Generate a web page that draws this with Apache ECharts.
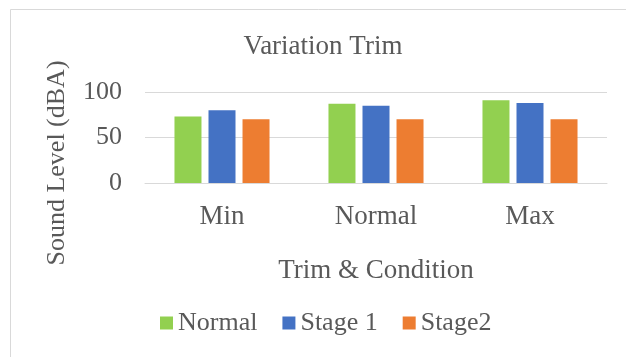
<!DOCTYPE html>
<html>
<head>
<meta charset="utf-8">
<script src="https://cdn.jsdelivr.net/npm/echarts@6/dist/echarts.min.js"></script>
<style>
  html, body { margin: 0; padding: 0; background: #fff; }
  #chart { width: 626px; height: 357px; }
</style>
</head>
<body>
<div id="chart"></div>
<script>
// Trim conditions on the category axis
const categories = ['Min', 'Normal', 'Max'];
// Sound levels (dBA) per condition
const normalValues = [73, 87, 91];
const stage1Values = [80, 85, 88];
const stage2Values = [70, 70, 70];
const seriesNames = ['Normal', 'Stage 1', 'Stage2'];
const yTicks = { min: 0, max: 100, interval: 50 };

const FONT = '"Liberation Serif", "Times New Roman", serif';
const TEXT = '#595959';
const colors = ['#92D050', '#4472C4', '#ED7D31'];

const chart = echarts.init(document.getElementById('chart'), null, { renderer: 'canvas' });

const option = {
  animation: false,
  backgroundColor: '#fff',
  textStyle: { fontFamily: FONT, color: TEXT },
  title: {
    text: 'Variation Trim',
    left: 323,
    textAlign: 'center',
    top: 33,
    padding: 0,
    textStyle: { fontFamily: FONT, fontSize: 27, fontWeight: 'normal', color: TEXT }
  },
  legend: {
    data: seriesNames,
    left: 160,
    top: 310,
    padding: 0,
    itemWidth: 13,
    itemHeight: 13,
    itemGap: 25,
    icon: 'rect',
    textStyle: { fontFamily: FONT, fontSize: 26, color: TEXT }
  },
  grid: { left: 145, right: 19, top: 92, bottom: 174, containLabel: false },
  xAxis: {
    type: 'category',
    data: categories,
    name: 'Trim & Condition',
    nameLocation: 'middle',
    nameGap: 74,
    nameTextStyle: { fontFamily: FONT, fontSize: 27, color: TEXT },
    axisLine: { lineStyle: { color: '#d9d9d9', width: 1 } },
    axisTick: { show: false },
    axisLabel: { fontFamily: FONT, fontSize: 27, color: TEXT, margin: 20 }
  },
  yAxis: {
    type: 'value',
    min: yTicks.min,
    max: yTicks.max,
    interval: yTicks.interval,
    axisLine: { show: false },
    axisTick: { show: false },
    splitLine: { lineStyle: { color: '#d9d9d9', width: 1 } },
    axisLabel: { fontFamily: FONT, fontSize: 26, color: TEXT, margin: 23 }
  },
  graphic: [
    {
      type: 'rect',
      shape: { x: 10.5, y: 9.5, width: 700, height: 400 },
      style: { fill: 'none', stroke: '#d9d9d9', lineWidth: 1 },
      z: -1
    },
    {
      type: 'text',
      x: 57,
      y: 163,
      rotation: Math.PI / 2,
      style: {
        text: 'Sound Level (dBA)',
        font: '26px ' + FONT,
        fill: TEXT,
        align: 'center',
        verticalAlign: 'middle'
      }
    }
  ],
  series: [
    { name: seriesNames[0], type: 'bar', data: normalValues, barWidth: 27, barGap: '26%', itemStyle: { color: colors[0] } },
    { name: seriesNames[1], type: 'bar', data: stage1Values, barWidth: 27, barGap: '26%', itemStyle: { color: colors[1] } },
    { name: seriesNames[2], type: 'bar', data: stage2Values, barWidth: 27, barGap: '26%', itemStyle: { color: colors[2] } }
  ]
};

chart.setOption(option);
</script>
</body>
</html>
